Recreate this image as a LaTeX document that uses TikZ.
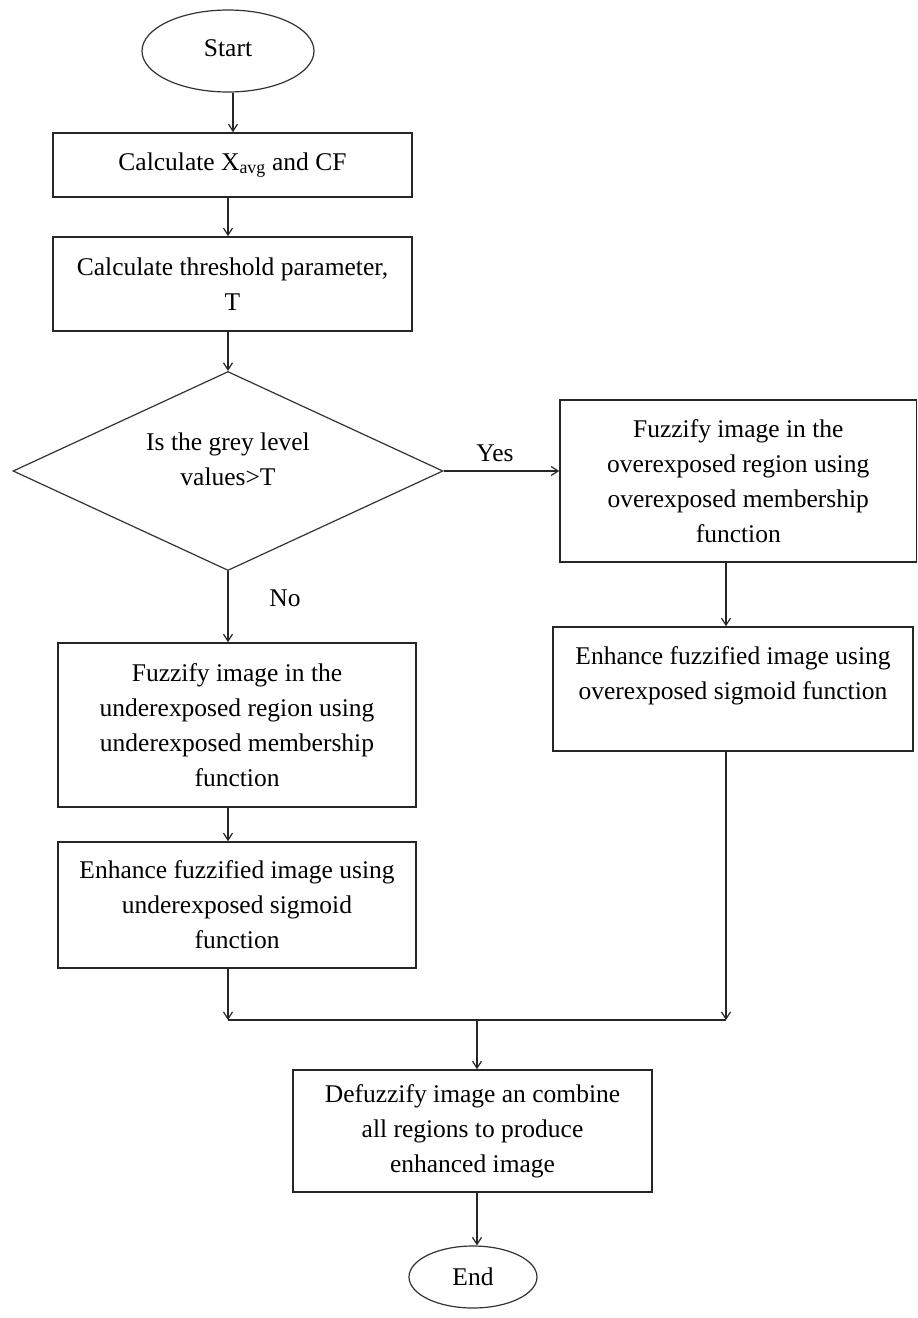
\documentclass[tikz,border=0pt]{standalone}
\usepackage{fontspec}
\setmainfont{Liberation Serif}
\usetikzlibrary{shapes.geometric,arrows.meta}
\begin{document}
\begin{tikzpicture}[x=1pt,y=-1pt,
  every node/.style={font=\fontsize{25.5}{35}\selectfont},
  procbox/.style={draw=black!85,line width=1.6pt,rectangle,inner sep=0pt,align=center},
  termnode/.style={draw=black!80,line width=1.2pt,ellipse,inner sep=0pt},
  decnode/.style={draw=black!80,line width=1.2pt,diamond,aspect=2.16,inner sep=0pt,align=center},
  arr/.style={draw=black!85,line width=1.4pt,-{Straight Barb[length=7pt,width=9pt,line width=1.2pt]}},
  ln/.style={draw=black!85,line width=1.4pt},
  lbl/.style={inner sep=0pt}
]
\useasboundingbox (0,0) rectangle (918,1318);
\fill[white] (0,0) rectangle (918,1318);

\node[termnode,minimum width=172pt,minimum height=82pt] (start) at (228,51) {\raisebox{6pt}{Start}};
\node[procbox,minimum width=359pt,minimum height=64pt] (box1) at (232.5,165) {Calculate X\textsubscript{avg} and CF};
\node[procbox,minimum width=359pt,minimum height=94pt] (box2) at (232.5,284) {Calculate threshold parameter,\\T};
\node[decnode,minimum width=430pt,minimum height=199pt] (dia) at (228,471) {Is the grey level\\values>T\\[-12pt]~};
\node[procbox,minimum width=356.5pt,minimum height=162pt] (rb1) at (738.25,481) {Fuzzify image in the\\overexposed region using\\overexposed membership\\function};
\node[procbox,minimum width=360pt,minimum height=124pt] (rb2) at (733,689) {Enhance fuzzified image using\\overexposed sigmoid function\\[-4pt]~};
\node[procbox,minimum width=358pt,minimum height=164pt] (lb1) at (237,725) {Fuzzify image in the\\underexposed region using\\underexposed membership\\function};
\node[procbox,minimum width=358pt,minimum height=126pt] (lb2) at (237,905) {Enhance fuzzified image using\\underexposed sigmoid\\function};
\node[procbox,minimum width=359pt,minimum height=122pt] (def) at (472.5,1131) {Defuzzify image an combine\\all regions to produce\\enhanced image};
\node[termnode,minimum width=128pt,minimum height=62pt] (endn) at (473,1277) {End};

\node[lbl] (yes) at (495,453) {Yes};
\node[lbl] (no) at (285,598) {No};

\coordinate (mL) at (228,1020);
\coordinate (mR) at (726,1020);
\coordinate (mC) at (477,1020);

\draw[arr] ([xshift=5pt]start.south) -- ([xshift=5pt]start.south |- box1.north);
\draw[arr] (dia.north |- box1.south) -- (dia.north |- box2.north);
\draw[arr] (dia.north |- box2.south) -- (dia.north);
\draw[arr] (dia.east) -- (dia.east -| rb1.west);
\draw[arr] (dia.south) -- (dia.south |- lb1.north);
\draw[arr] (dia.south |- lb1.south) -- (dia.south |- lb2.north);
\draw[arr] (mR |- rb1.south) -- (mR |- rb2.north);
\draw[arr] (mL |- lb2.south) -- (mL);
\draw[arr] (mR |- rb2.south) -- (mR);
\draw[ln] (mL) -- (mR);
\draw[arr] (mC) -- (mC |- def.north);
\draw[arr] (mC |- def.south) -- (mC |- endn.north);
\end{tikzpicture}
\end{document}
